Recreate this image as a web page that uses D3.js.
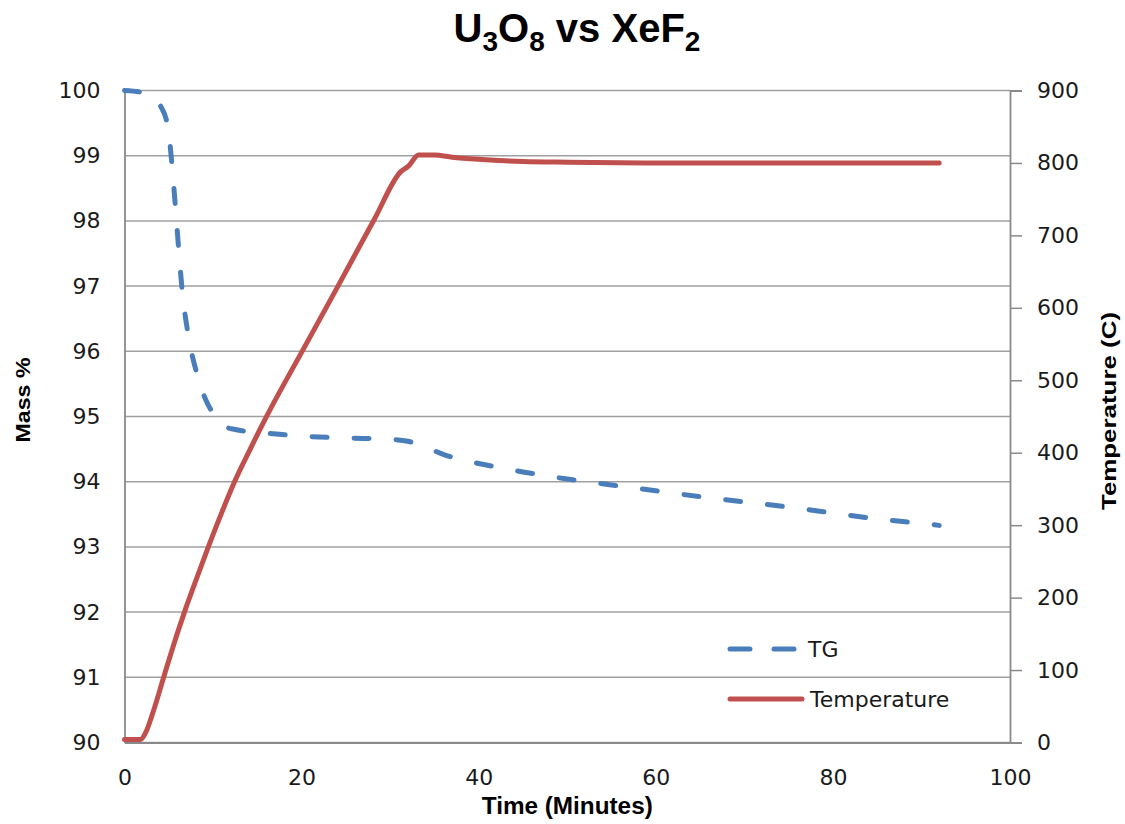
<!DOCTYPE html>
<html>
<head>
<meta charset="utf-8">
<script src="https://cdn.jsdelivr.net/npm/d3@7"></script>
<style>
  body { margin: 0; background: #fff; }
  svg { display: block; }
  .tick text { font-family: "DejaVu Sans", Verdana, sans-serif; font-size: 22px; fill: #1a1a1a; }
  .ttl { font-family: "Liberation Sans Narrow", "Arial Narrow", "Liberation Sans", sans-serif; font-weight: bold; fill: #000; }
</style>
</head>
<body>
<div id="chart"></div>
<script>
// TG curve: time (min) vs mass %
const tg_time = [0, 2, 3, 4, 4.9, 5.3, 5.7, 6.1, 6.5, 7.2, 8.3, 9.2, 10, 11, 12.5, 15, 20, 25, 30, 32, 34, 36, 38, 40, 45, 50, 55, 60, 65, 70, 75, 80, 85, 90, 92];
const tg_mass = [100, 99.97, 99.93, 99.78, 99.44, 98.95, 98.3, 97.6, 96.95, 96.25, 95.6, 95.25, 95.05, 94.87, 94.8, 94.76, 94.7, 94.67, 94.65, 94.62, 94.53, 94.42, 94.34, 94.28, 94.15, 94.04, 93.95, 93.86, 93.77, 93.69, 93.61, 93.52, 93.43, 93.36, 93.33];

// furnace temperature (C)
const temp_time = [0, 1.8, 2.4, 3.2, 4.4, 5.5, 6.8, 8.1, 9.5, 11, 12.5, 14.2, 16, 20.2, 24.2, 28.2, 31.2, 32.1, 33.2, 35, 37, 40, 45, 50, 60, 70, 80, 92];
const temp_vals = [4, 4, 14, 41, 89, 133, 181, 225, 271, 318, 362, 405, 449, 543, 632, 722, 788, 796, 811, 811, 808, 805, 802, 801, 800, 800, 800, 800];

const x_ticks = [0, 20, 40, 60, 80, 100];
const mass_ticks = [90, 91, 92, 93, 94, 95, 96, 97, 98, 99, 100];
const temp_ticks = [0, 100, 200, 300, 400, 500, 600, 700, 800, 900];

const W = 1125, H = 824;
const margin = { top: 90.5, left: 124.5, right: 115, bottom: 81.5 };
const width = W - margin.left - margin.right;
const height = H - margin.top - margin.bottom;

const x_scale = d3.scaleLinear().domain([0, 100]).range([0, width]);
const y_mass = d3.scaleLinear().domain([90, 100]).range([height, 0]);
const y_temp = d3.scaleLinear().domain([0, 900]).range([height, 0]);

const svg = d3.select('#chart').append('svg')
  .attr('width', W)
  .attr('height', H);

const g = svg.append('g')
  .attr('transform', 'translate(' + margin.left + ',' + margin.top + ')');

// gridlines
g.append('g')
  .selectAll('line')
  .data(mass_ticks)
  .enter().append('line')
    .attr('x1', 0)
    .attr('x2', width)
    .attr('y1', d => y_mass(d))
    .attr('y2', d => y_mass(d))
    .attr('stroke', '#a0a0a0')
    .attr('stroke-width', 1.5);

// left axis
const axL = g.append('g')
  .call(d3.axisLeft(y_mass).tickValues(mass_ticks).tickSize(0).tickPadding(24));
// right axis
const axR = g.append('g')
  .attr('transform', 'translate(' + width + ',0)')
  .call(d3.axisRight(y_temp).tickValues(temp_ticks).tickSize(12).tickPadding(15));
// bottom axis
const axB = g.append('g')
  .attr('transform', 'translate(0,' + height + ')')
  .call(d3.axisBottom(x_scale).tickValues(x_ticks).tickSize(0).tickPadding(27));

[axL, axR, axB].forEach(ax => {
  ax.select('.domain').attr('stroke', '#8a8a8a').attr('stroke-width', 1.8);
  ax.selectAll('.tick line').attr('stroke', '#8a8a8a').attr('stroke-width', 1.5);
  ax.attr('font-family', null).attr('font-size', null);
});

const tgData = tg_time.map((t, i) => ({ x: t, y: tg_mass[i] }));
const tempData = temp_time.map((t, i) => ({ x: t, y: temp_vals[i] }));

const lineTG = d3.line()
  .x(d => x_scale(d.x))
  .y(d => y_mass(d.y))
  .curve(d3.curveMonotoneX);
const lineTemp = d3.line()
  .x(d => x_scale(d.x))
  .y(d => y_temp(d.y))
  .curve(d3.curveMonotoneX);

g.append('path')
  .datum(tempData)
  .attr('d', lineTemp)
  .attr('fill', 'none')
  .attr('stroke', '#c0504d')
  .attr('stroke-width', 5)
  .attr('stroke-linejoin', 'round')
  .attr('stroke-linecap', 'round');

g.append('path')
  .datum(tgData)
  .attr('d', lineTG)
  .attr('fill', 'none')
  .attr('stroke', '#4a7ebb')
  .attr('stroke-width', 5)
  .attr('stroke-dasharray', '15 27')
  .attr('stroke-linecap', 'round');

// legend
const leg = svg.append('g');
leg.append('line')
  .attr('x1', 730).attr('x2', 797).attr('y1', 649).attr('y2', 649)
  .attr('stroke', '#4a7ebb').attr('stroke-width', 5)
  .attr('stroke-dasharray', '20 24').attr('stroke-linecap', 'round');
leg.append('text')
  .attr('x', 808).attr('y', 657)
  .attr('font-family', '"DejaVu Sans", Verdana, sans-serif').attr('font-size', 22)
  .attr('fill', '#1a1a1a').text('TG');
leg.append('line')
  .attr('x1', 730).attr('x2', 802).attr('y1', 699).attr('y2', 699)
  .attr('stroke', '#c0504d').attr('stroke-width', 5).attr('stroke-linecap', 'round');
leg.append('text')
  .attr('x', 810).attr('y', 707)
  .attr('font-family', '"DejaVu Sans", Verdana, sans-serif').attr('font-size', 22)
  .attr('fill', '#1a1a1a').text('Temperature');

// chart title with subscripts
const title = svg.append('text')
  .attr('class', 'ttl')
  .attr('x', 577).attr('y', 42)
  .attr('text-anchor', 'middle')
  .attr('font-size', 40);
const parts = [['U', 0], ['3', 1], ['O', 0], ['8', 1], [' vs XeF', 0], ['2', 1]];
parts.forEach(([s, sub], i) => {
  const prevSub = i > 0 && parts[i - 1][1];
  title.append('tspan')
    .attr('font-size', sub ? 28 : 40)
    .attr('dy', (sub ? 9 : 0) - (prevSub ? 9 : 0))
    .text(s);
});

svg.append('text')
  .attr('class', 'ttl')
  .attr('x', margin.left + width / 2).attr('y', 814)
  .attr('text-anchor', 'middle')
  .attr('font-size', 23)
  .attr('textLength', 171).attr('lengthAdjust', 'spacingAndGlyphs')
  .text('Time (Minutes)');

svg.append('text')
  .attr('class', 'ttl')
  .attr('transform', 'translate(30,400) rotate(-90)')
  .attr('text-anchor', 'middle')
  .attr('font-size', 21)
  .attr('textLength', 85).attr('lengthAdjust', 'spacingAndGlyphs')
  .text('Mass %');

svg.append('text')
  .attr('class', 'ttl')
  .attr('transform', 'translate(1116,411) rotate(-90)')
  .attr('text-anchor', 'middle')
  .attr('font-size', 21)
  .attr('textLength', 198).attr('lengthAdjust', 'spacingAndGlyphs')
  .text('Temperature (C)');
</script>
</body>
</html>
